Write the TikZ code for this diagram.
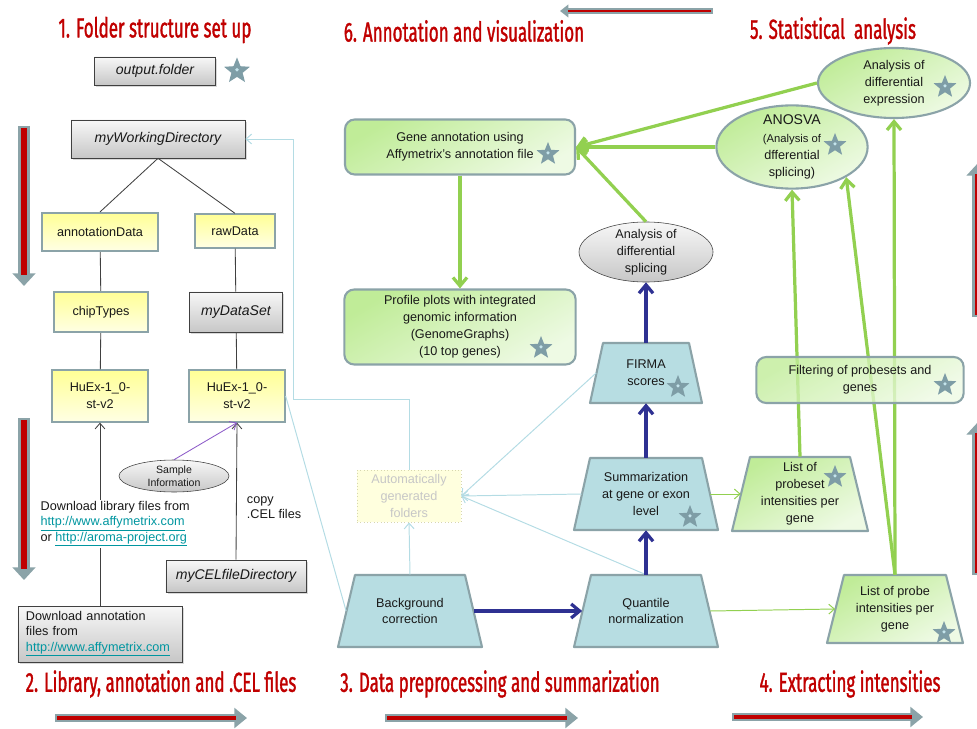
\documentclass[tikz,border=0pt]{standalone}
\usepackage{fontspec}
\setmainfont{Liberation Sans}
\newfontfamily\titlefont[FakeStretch=0.62,FakeBold=1.2]{Fira Sans}
\usetikzlibrary{shapes.geometric,arrows.meta,shadows}

\definecolor{edgegray}{RGB}{139,163,168}
\definecolor{titlered}{RGB}{192,0,0}
\definecolor{navy}{RGB}{46,49,146}
\definecolor{leaf}{RGB}{146,208,80}
\definecolor{pale}{RGB}{183,221,226}
\definecolor{paleline}{RGB}{180,220,228}
\definecolor{greenA}{RGB}{192,236,152}
\definecolor{greenB}{RGB}{238,250,228}
\definecolor{yelA}{RGB}{255,255,150}
\definecolor{yelB}{RGB}{255,255,228}
\definecolor{autofill}{RGB}{255,255,222}
\definecolor{autoedge}{RGB}{215,215,175}
\definecolor{starfill}{RGB}{126,157,166}
\definecolor{starin}{RGB}{196,228,236}
\definecolor{linkteal}{RGB}{0,150,160}
\definecolor{lilac}{RGB}{140,90,200}

\begin{document}
\begin{tikzpicture}[x=0.025cm,y=-0.025cm,
  txt/.style={font=\fontsize{9}{12}\selectfont,align=center,text=black!90},
  title/.style={font=\titlefont\fontsize{19.5}{20}\selectfont,text=titlered},
  graybox/.style={txt,draw=black!75,top color=black!3,bottom color=black!22,
    drop shadow={opacity=0.3,shadow xshift=1.2pt,shadow yshift=-1.2pt},
    font=\fontsize{10}{12}\selectfont\itshape,inner sep=1pt},
  yelbox/.style={txt,draw=edgegray,line width=1.5pt,top color=yelA,bottom color=yelB,inner sep=1pt},
  greenbox/.style={txt,draw=edgegray,line width=1.5pt,rounded corners=7pt,
    top color=greenA,bottom color=greenB,shading angle=30,inner sep=1pt},
  greenoval/.style={txt,shape=ellipse,draw=edgegray,line width=1.5pt,top color=greenA,
    bottom color=greenB,shading angle=30,inner xsep=0pt,inner ysep=-2pt},
  grayoval/.style={txt,shape=ellipse,draw=black!75,top color=black!3,bottom color=black!22,
    inner xsep=0pt,inner ysep=-2pt},
  trapline/.style={draw=edgegray,line width=1.5pt,line join=round},
  traptext/.style={txt,inner sep=1pt},
  keystar/.style={shape=star,star points=5,star point ratio=2.3,fill=starfill,
    minimum size=0.6cm,inner sep=0pt,
    path picture={\fill[starin] (path picture bounding box.center) circle (1.3pt);}},
  tree/.style={black!75,line width=0.6pt},
  thinarrow/.style={black!75,line width=0.6pt,-{Straight Barb[length=4pt,width=7pt]}},
  paleedge/.style={paleline,line width=0.7pt,-{Straight Barb[length=4pt,width=7pt]}},
  navyarrow/.style={navy,line width=2.3pt,-{Straight Barb[length=6pt,width=10pt]}},
  leafarrow/.style={leaf,line width=2.3pt,-{Straight Barb[length=6pt,width=10pt]}},
  leafthin/.style={leaf,line width=0.7pt,-{Straight Barb[length=4pt,width=7pt]}},
  graybar/.style={edgegray,line width=#1},
  redbar/.style={titlered,line width=#1}]
\useasboundingbox (0,0) rectangle (977,728);

% titles
\node[title] (t1) at (155,30) {1. Folder structure set up};
\node[title] (t6) at (464,31) {6. Annotation and visualization};
\node[title] (t5) at (833,31) {5. Statistical\ \ analysis};
\node[title] (t2) at (161,684) {2. Library, annotation and .CEL files};
\node[title] (t3) at (500,684) {3. Data preprocessing and summarization};
\node[title] (t4) at (850,684) {4. Extracting intensities};

% big red arrows
\draw[graybar=4.3pt,-{Triangle[width=9pt,length=6pt]}] (713,11) -- (560,11);
\draw[redbar=1.8pt] (711,11) -- (568,11);
\draw[graybar=8.5pt,-{Triangle[width=16pt,length=9pt]}] (24,126) -- (24,286);
\draw[redbar=4pt] (24,128) -- (24,275);
\draw[graybar=8.5pt,-{Triangle[width=16pt,length=9pt]}] (24,418) -- (24,580);
\draw[redbar=4pt] (24,420) -- (24,569);
\draw[graybar=8.5pt,-{Triangle[width=16pt,length=9pt]}] (978,317) -- (978,163);
\draw[redbar=4pt] (978,315) -- (978,174);
\draw[graybar=8.5pt,-{Triangle[width=16pt,length=9pt]}] (978,575) -- (978,422);
\draw[redbar=4pt] (978,573) -- (978,433);
\draw[graybar=5.7pt,-{Triangle[width=14pt,length=9pt]}] (55,718) -- (247,718);
\draw[redbar=2.6pt] (57,718) -- (236,718);
\draw[graybar=5.7pt,-{Triangle[width=14pt,length=9pt]}] (385,718) -- (578,718);
\draw[redbar=2.6pt] (387,718) -- (567,718);
\draw[graybar=5.7pt,-{Triangle[width=14pt,length=9pt]}] (732,717) -- (923,717);
\draw[redbar=2.6pt] (734,717) -- (912,717);

% folder structure
\node[graybox,minimum width=3.03cm,minimum height=0.7cm] (outdir) at (155,71) {output.folder};
\node[keystar,minimum size=0.68cm] (s1) at (237,71) {};
\node[graybox,minimum width=4.35cm,minimum height=0.95cm] (mwd) at (158,139) {myWorkingDirectory};
\node[yelbox,minimum width=2.88cm,minimum height=0.95cm] (annot) at (100,232) {annotationData};
\node[yelbox,minimum width=1.98cm,minimum height=0.83cm] (raw) at (235,231) {rawData};
\node[yelbox,minimum width=2.33cm,minimum height=1cm] (chip) at (101,312) {chipTypes};
\node[graybox,minimum width=2.33cm,minimum height=1cm] (mds) at (236,312) {myDataSet};
\node[yelbox,minimum width=2.38cm,minimum height=1.28cm] (huexL) at (100,396) {HuEx-1\_0-\\st-v2};
\node[yelbox,minimum width=2.38cm,minimum height=1.28cm] (huexR) at (237,396) {HuEx-1\_0-\\st-v2};
\node[grayoval,font=\fontsize{7.5}{9.5}\selectfont,minimum width=2.75cm,minimum height=0.8cm] (sample) at (174,476) {Sample\\Information};
\node[graybox,font=\fontsize{9}{10.8}\selectfont,align=left,text width=3.7cm,
  minimum width=4.1cm,minimum height=1.4cm] (dlann) at (100,634)
  {Download annotation\\files from\\\textcolor{linkteal}{\underline{http://www.affymetrix.com}}};
\node[graybox,minimum width=3.5cm,minimum height=0.8cm] (celdir) at (236,576) {myCELfileDirectory};

\draw[tree] (mwd.south) -- (annot.north);
\draw[tree] (mwd.south) -- (raw.north);
\draw[tree] (annot) -- (chip);
\draw[tree] (chip) -- (huexL);
\draw[tree] (raw) -- (mds);
\draw[tree] (mds) -- (huexR);
\draw[thinarrow] (dlann.north) -- (huexL.south);
\draw[thinarrow] (celdir.north) -- (huexR.south);
\draw[thinarrow,lilac] (sample.north) -- (huexR.south);
\node[txt,font=\fontsize{9}{10.8}\selectfont,align=left,anchor=west,fill=white,inner sep=1pt] (libtext) at (39,524)
  {Download library files from\\\textcolor{linkteal}{\underline{http://www.affymetrix.com}}\\or \textcolor{linkteal}{\underline{http://aroma-project.org}}};
\node[txt,font=\fontsize{9}{10.8}\selectfont,align=left,anchor=west] (copylbl) at (242,508) {copy\\.CEL files};

% annotation and statistics
\node[greenbox,minimum width=5.75cm,minimum height=1.375cm] (gene) at (460,147) {Gene annotation using\\Affymetrix's annotation file};
\node[keystar] (s2) at (548,154) {};
\node[greenbox,minimum width=5.78cm,minimum height=1.875cm] (profile) at (460,327) {Profile plots with integrated\\genomic information\\(GenomeGraphs)\\(10 top genes)};
\node[keystar] (s3) at (541,348) {};
\node[grayoval,minimum width=3.35cm,minimum height=1.5cm] (asplice) at (646,252) {Analysis of\\differential\\splicing};
\node[greenoval,minimum width=3.78cm,minimum height=1.78cm] (anosva) at (792,147)
  {\fontsize{10}{12}\selectfont ANOSVA\\[1pt]\fontsize{8}{9.3}\selectfont (Analysis of\\dfferential\\splicing)};
\node[keystar] (s4) at (835,145) {};
\node[greenoval,minimum width=3.8cm,minimum height=1.75cm] (diffexpr) at (894,83) {Analysis of\\differential\\expression};
\node[keystar] (s5) at (945,87) {};

% trapezoid outlines: centre x/centre y/top half width/bottom half width/half height
\foreach \cx/\cy/\tw/\bw/\hh in {646/373/43/56/30, 646/494/56/72/36, 646/611/55/72/36, 410/611/55/72/36}
  \filldraw[trapline,fill=pale] (\cx-\tw,\cy-\hh) -- (\cx+\tw,\cy-\hh) -- (\cx+\bw,\cy+\hh) -- (\cx-\bw,\cy+\hh) -- cycle;
\foreach \cx/\cy/\tw/\bw/\hh in {800/494/50/68/37, 895/609/51/68/34}
  \draw[trapline,top color=greenA,bottom color=greenB,shading angle=30] (\cx-\tw,\cy-\hh) -- (\cx+\tw,\cy-\hh) -- (\cx+\bw,\cy+\hh) -- (\cx-\bw,\cy+\hh) -- cycle;

% preprocessing
\node[traptext,minimum width=2.48cm,minimum height=1.5cm] (firma) at (646,373) {FIRMA\\scores};
\node[keystar] (s6) at (678,387) {};
\node[traptext,minimum width=3.2cm,minimum height=1.8cm] (summ) at (646,494) {Summarization\\at gene or exon\\level};
\node[keystar] (s7) at (690,517) {};
\node[traptext,minimum width=3.18cm,minimum height=1.8cm] (quant) at (646,611) {Quantile\\normalization};
\node[traptext,minimum width=3.18cm,minimum height=1.8cm] (bg) at (410,611) {Background\\correction};
\node[txt,draw=autoedge,dotted,fill=autofill,text=black!22,minimum width=2.6cm,minimum height=1.275cm] (auto) at (409,496) {Automatically\\generated\\folders};

% intensities
\node[traptext,minimum width=2.95cm,minimum height=1.85cm] (probeset) at (800,494) {List of\\probeset\\intensities per\\gene};
\node[keystar] (s8) at (835,477) {};
\node[traptext,minimum width=2.98cm,minimum height=1.7cm] (probe) at (895,609) {List of probe\\intensities per\\gene};
\node[keystar] (s10) at (944,633) {};

% pale connectors
\coordinate (bend1) at (293,399);
\draw[paleedge] (auto.north) |- (bend1) |- (mwd.east);
\draw[paleline,line width=0.7pt] (huexR.east) -- (bg.west);
\draw[paleedge] (bg.north) -- (auto.south);
\draw[paleedge] (summ.west) -- (auto.east);
\draw[paleedge] (firma.west) -- (auto.east);
\draw[paleedge] (quant.north) -- (auto.east);

% workflow
\draw[navyarrow] (bg.east) -- (quant.west);
\draw[navyarrow] (quant.north) -- (summ.south);
\draw[navyarrow] (summ.north) -- (firma.south);
\draw[navyarrow] (firma.north) -- (asplice.south);
\draw[leafthin] (summ.east) -- (probeset.west);
\draw[leafthin] (quant.east) -- (probe.west);
\draw[leafarrow] (asplice.north) -- (gene.east);
\draw[leafarrow] (anosva.west) -- (gene.east);
\draw[leafarrow] (diffexpr.west) -- (gene.east);
\draw[leafarrow] (gene.south) -- (profile.north);
\draw[leafarrow] (probeset.north) -- (anosva.south);
\draw[leafarrow] (probe.north) -- (anosva.south east);
\draw[leafarrow] (probe.north) -- (diffexpr.south);

\node[greenbox,fill opacity=0.8,text opacity=1,minimum width=5.18cm,minimum height=1.15cm] (filter) at (860,380) {Filtering of probesets and\\genes};
\node[keystar] (s9) at (945,385) {};
\end{tikzpicture}
\end{document}
